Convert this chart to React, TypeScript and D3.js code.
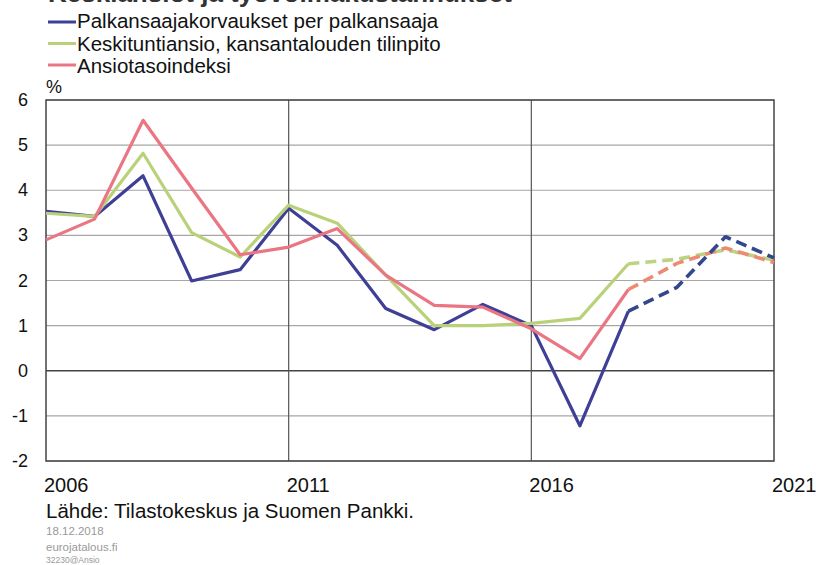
import React from "react";
import * as d3 from "d3";

// vuodet ja sarjat (%), 2018-> ennuste
const years = [2006, 2007, 2008, 2009, 2010, 2011, 2012, 2013, 2014, 2015, 2016, 2017, 2018, 2019, 2020, 2021];
const palkansaajakorvaukset = [3.53, 3.42, 4.32, 1.99, 2.24, 3.6, 2.78, 1.38, 0.91, 1.47, 1.0, -1.22, 1.32, 1.85, 2.97, 2.5];
const keskituntiansio = [3.49, 3.42, 4.82, 3.06, 2.52, 3.67, 3.27, 2.12, 1.0, 1.0, 1.05, 1.16, 2.37, 2.47, 2.68, 2.45];
const ansiotasoindeksi = [2.9, 3.36, 5.55, 4.05, 2.57, 2.74, 3.15, 2.12, 1.45, 1.41, 0.93, 0.27, 1.8, 2.38, 2.72, 2.4];
const forecastFrom = 2018;

const yTicks = [-2, -1, 0, 1, 2, 3, 4, 5, 6];
const xLabels = [2006, 2011, 2016, 2021];
const xGrid = [2011, 2016];

const seriesNames = [
  "Palkansaajakorvaukset per palkansaaja",
  "Keskituntiansio, kansantalouden tilinpito",
  "Ansiotasoindeksi",
];
const colors = ["#3f3f96", "#b9d27a", "#ea7583"];
const dashColors = ["#34478c", "#bcd384", "#ee8a72"];

const FONT = "'Liberation Sans', Arial, sans-serif";

const App = () => {
  const width = 816;
  const height = 565;
  const left = 46, right = 774, top = 100, bottom = 461;

  const x = d3.scaleLinear([2006, 2021], [left, right]);
  const y = d3.scaleLinear([-2, 6], [bottom, top]);

  const allSeries = [palkansaajakorvaukset, keskituntiansio, ansiotasoindeksi];
  const line = d3.line<[number, number]>((d) => x(d[0]), (d) => y(d[1]));

  const pairs = (vals) => years.map((yr, i) => [yr, vals[i]] as [number, number]);
  const solid = (vals) => pairs(vals).filter((d) => d[0] <= forecastFrom);
  const dashed = (vals) => pairs(vals).filter((d) => d[0] >= forecastFrom);

  return (
    <svg width={width} height={height} style={{ position: "absolute", left: 0, top: 0, background: "#fff" }} fontFamily={FONT}>
      {/* otsikko, leikkautuu ylälaidasta kuten kuvassa */}
      <text x={48} y={2} fontSize={26} fontWeight="bold" fill="#333">Keskiansiot ja työvoimakustannukset</text>

      {/* selite */}
      {seriesNames.map((name, i) => (
        <g key={name}>
          <line x1={48} x2={76} y1={22 + i * 21.5} y2={22 + i * 21.5} stroke={colors[i]} strokeWidth={3} />
          <text x={77} y={28 + i * 22.5} fontSize={20.5} fill="#111">{name}</text>
        </g>
      ))}

      <text x={46} y={93} fontSize={18} fill="#111">%</text>

      {/* ruudukko */}
      {yTicks.map((t) => (
        <line key={t} x1={left} x2={right} y1={y(t)} y2={y(t)}
          stroke={t === 0 ? "#444" : "#a6a6a6"} strokeWidth={t === 0 ? 1.5 : 1.2} />
      ))}
      {xGrid.map((yr) => (
        <line key={yr} x1={x(yr)} x2={x(yr)} y1={top} y2={bottom} stroke="#555" strokeWidth={1.2} />
      ))}
      <rect x={left} y={top} width={right - left} height={bottom - top} fill="none" stroke="#444" strokeWidth={1.5} />

      {yTicks.map((t) => (
        <text key={t} x={28} y={y(t) + 6} fontSize={18} textAnchor="end" fill="#111">{t}</text>
      ))}
      {xLabels.map((yr) => (
        <text key={yr} x={x(yr) - 2} y={492} fontSize={20} fill="#111">{yr}</text>
      ))}

      {/* sarjat */}
      {allSeries.map((vals, i) => (
        <path key={"s" + i} d={line(solid(vals))} fill="none" stroke={colors[i]} strokeWidth={3.2} strokeLinejoin="round" />
      ))}
      {[1, 2, 0].map((i) => (
        <path key={"d" + i} d={line(dashed(allSeries[i]))} fill="none" stroke={dashColors[i]} strokeWidth={3.6}
          strokeDasharray="11 6" strokeLinejoin="round" />
      ))}

      {/* lähde */}
      <text x={46} y={518} fontSize={20.5} fill="#111">Lähde: Tilastokeskus ja Suomen Pankki.</text>
      <text x={46} y={535} fontSize={11.5} fill="#999">18.12.2018</text>
      <text x={46} y={551} fontSize={11.5} fill="#999">eurojatalous.fi</text>
      <text x={46} y={563} fontSize={8.5} fill="#999">32230@Ansio</text>
    </svg>
  );
};

export default App;
